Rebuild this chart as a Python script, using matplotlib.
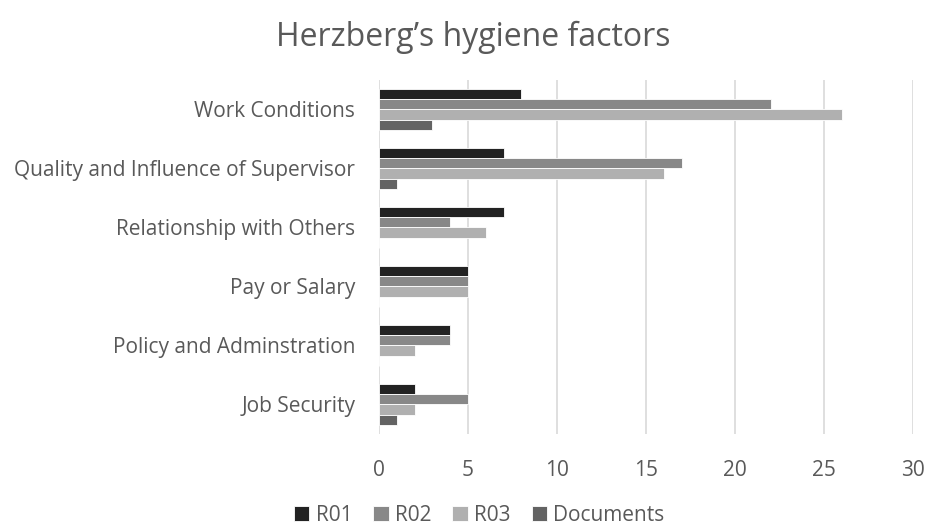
import matplotlib
matplotlib.use("Agg")
import matplotlib.pyplot as plt
import numpy as np

categories = ["Work Conditions", "Quality and Influence of Supervisor",
              "Relationship with Others", "Pay or Salary",
              "Policy and Adminstration", "Job Security"]
series = ["R01", "R02", "R03", "Documents"]
r01 = [8, 7, 7, 5, 4, 2]
r02 = [22, 17, 4, 5, 4, 5]
r03 = [26, 16, 6, 5, 2, 2]
docs = [3, 1, 0, 0, 0, 1]
colors = ["#222222", "#888888", "#b0b0b0", "#636363"]

plt.rcParams["font.family"] = ["Open Sans", "DejaVu Sans"]
txt = "#595959"

fig = plt.figure(figsize=(9.27, 5.31), dpi=100)
ax = fig.add_axes([0.4088, 0.1827, 0.5761, 0.6667])

y = np.arange(len(categories))
h = 0.175
for j, (name, vals) in enumerate(zip(series, [r01, r02, r03, docs])):
    ax.barh(y + (j - 1.5) * h, vals, height=h, color=colors[j],
            edgecolor="white", linewidth=0.6, label=name, zorder=3)

ax.set_ylim(len(categories) - 0.5, -0.5)
ax.set_xlim(0, 30)
ax.set_xticks(range(0, 31, 5))
ax.set_yticks(y)
ax.set_yticklabels(categories)
ax.tick_params(axis="both", length=0, labelsize=15, colors=txt)
ax.tick_params(axis="x", pad=19)
ax.tick_params(axis="y", pad=17)
for s in ax.spines.values():
    s.set_visible(False)
ax.grid(axis="x", color="#d9d9d9", linewidth=1.2, zorder=0)
ax.set_axisbelow(True)

fig.suptitle("Herzberg\u2019s hygiene factors", x=0.51, y=0.96, fontsize=23, color=txt)
fig.legend(loc="lower center", bbox_to_anchor=(0.517, -0.022), ncol=4, frameon=False,
           fontsize=15, labelcolor=txt, handlelength=0.75, handleheight=0.75,
           handletextpad=0.3, columnspacing=1.0, borderpad=0.3)

plt.savefig("out.png", dpi=100)
